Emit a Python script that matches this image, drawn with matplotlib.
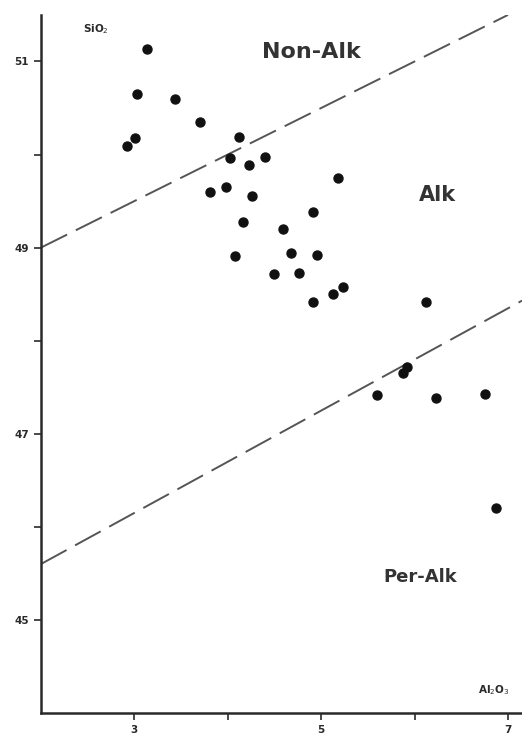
# SiO2 vs Al2O3 scatter with alkalinity boundaries

import matplotlib.pyplot as plt

# Al2O3 and SiO2 values
al2o3 = [3.13, 3.03, 3.43, 3.70, 4.12, 3.01, 2.92, 4.02, 4.23, 4.40,
         3.81, 3.98, 4.26, 4.16, 4.59, 4.08, 4.68, 5.18, 4.91, 4.95,
         4.50, 4.76, 4.91, 5.13, 5.23, 6.12, 5.92, 5.88, 5.60, 6.23,
         6.75, 6.87]
sio2 = [51.13, 50.65, 50.60, 50.35, 50.19, 50.18, 50.09, 49.96, 49.89, 49.97,
        49.60, 49.65, 49.55, 49.28, 49.20, 48.91, 48.94, 49.75, 49.38, 48.92,
        48.72, 48.73, 48.42, 48.50, 48.58, 48.42, 47.72, 47.65, 47.42, 47.38,
        47.43, 46.20]

# boundary lines (end points)
upper_x = [2.0, 7.0]
upper_y = [49.0, 51.5]
lower_x = [2.0, 7.15]
lower_y = [45.6, 48.43]

x_ticks = [3, 4, 5, 6, 7]
x_labels = ['3', '', '5', '', '7']
y_ticks = [45, 46, 47, 48, 49, 50, 51]
y_labels = ['45', '', '47', '', '49', '', '51']

ink = '#2a2a2a'

fig = plt.figure(figsize=(5.22, 7.35), dpi=100)
ax = fig.add_axes([0.0785, 0.030, 0.9215, 0.9497])

ax.plot(upper_x, upper_y, color='#555555', lw=1.4, dashes=(15, 5))
ax.plot(lower_x, lower_y, color='#555555', lw=1.4, dashes=(15, 5))
ax.scatter(al2o3, sio2, s=42, color='#111111', zorder=3)

ax.set_xlim(2, 7.15)
ax.set_ylim(44, 51.5)
ax.set_xticks(x_ticks)
ax.set_xticklabels(x_labels)
ax.set_yticks(y_ticks)
ax.set_yticklabels(y_labels)
ax.tick_params(colors=ink, labelsize=7.5, length=5, width=1.2)
for lab in ax.get_xticklabels() + ax.get_yticklabels():
    lab.set_fontweight('bold')

ax.spines['top'].set_visible(False)
ax.spines['right'].set_visible(False)
for side in ['left', 'bottom']:
    ax.spines[side].set_color(ink)
    ax.spines[side].set_linewidth(1.8)

ax.text(2.45, 51.35, 'SiO$_2$', fontsize=7.5, fontweight='bold', color=ink,
        ha='left', va='center')
ax.text(6.85, 44.25, 'Al$_2$O$_3$', fontsize=7.5, fontweight='bold', color=ink,
        ha='center', va='center')

ax.text(4.9, 51.1, 'Non-Alk', fontsize=16, fontweight='bold', color='#333333',
        ha='center', va='center')
ax.text(6.24, 49.56, 'Alk', fontsize=15, fontweight='bold', color='#333333',
        ha='center', va='center')
ax.text(6.06, 45.46, 'Per-Alk', fontsize=13, fontweight='bold', color='#333333',
        ha='center', va='center')

plt.savefig('out.png', dpi=100)
